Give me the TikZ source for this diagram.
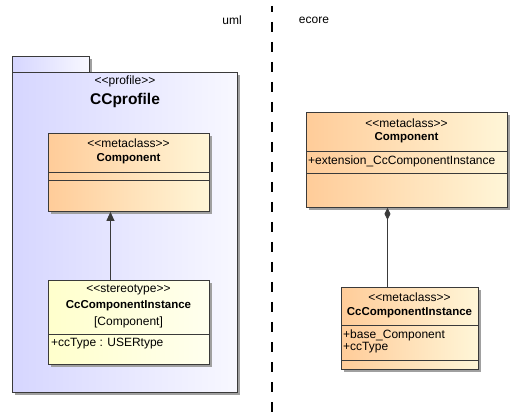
\documentclass[tikz,border=0pt]{standalone}
\usepackage{fontspec}
\setmainfont{Liberation Sans}
\usetikzlibrary{arrows.meta,shadows}
\definecolor{pkgL}{HTML}{D6D6FF}
\definecolor{pkgR}{HTML}{F8F8FF}
\definecolor{mcL}{HTML}{FFCC99}
\definecolor{mcR}{HTML}{FFF6D8}
\definecolor{stL}{HTML}{FFFFCC}
\definecolor{stR}{HTML}{FFFFEE}
\definecolor{edge}{HTML}{3A3A3A}
\definecolor{shadowgray}{HTML}{A0A0A0}
\tikzset{
  shade/.style={drop shadow={shadow xshift=3pt,shadow yshift=-3pt,fill=shadowgray,opacity=1}},
  umlbox/.style={draw=edge,line width=0.9pt,anchor=north west,inner sep=0pt,shade},
  metabox/.style={umlbox,left color=mcL,right color=mcR},
  stereobox/.style={umlbox,left color=stL,right color=stR},
  pkgbox/.style={umlbox,left color=pkgL,right color=pkgR},
  txt/.style={font=\fontsize{12}{14}\selectfont,inner sep=0pt},
  bold/.style={txt,font=\fontsize{11.5}{13}\selectfont\bfseries},
  sep/.style={draw=edge,line width=0.9pt}
}
\begin{document}
\begin{tikzpicture}[x=1pt,y=-1pt]
  \useasboundingbox (0,0) rectangle (527,419);
  %% sides
  \draw[line width=1.3pt,dash pattern=on 10pt off 10pt,dash phase=4pt] (272,6) -- (272,419);
  \node[txt] (uml) at (232,20) {uml};
  \node[txt] (ecore) at (314,20) {ecore};
  %% profile package
  \node[pkgbox,minimum width=77pt,minimum height=16pt] (tab) at (12,56) {};
  \node[pkgbox,minimum width=225pt,minimum height=320pt] (pkg) at (12,72) {};
  \node[txt] (pkgst) at (125,81) {<{}<profile>{}>};
  \node[txt,font=\fontsize{15.5}{17}\selectfont\bfseries] (pkgname) at (125,100) {CCprofile};
  %% uml metaclass
  \node[metabox,minimum width=161pt,minimum height=78pt] (compL) at (48,133) {};
  \node[txt] at (128.5,143) {<{}<metaclass>{}>};
  \node[bold] at (128.5,159) {Component};
  \draw[sep] (48,172) -- (209,172);
  \draw[sep] (48,180) -- (209,180);
  %% stereotype
  \node[stereobox,minimum width=161pt,minimum height=84pt] (inst) at (48,280) {};
  \node[txt] at (128.5,290) {<{}<stereotype>{}>};
  \node[bold] at (128.5,306) {CcComponentInstance};
  \node[txt] at (128.5,322) {[Component]};
  \draw[sep] (48,334) -- (209,334);
  \node[txt,anchor=west] at (51,344) {+ccType : USERtype};
  \draw[edge,line width=0.9pt,-{Triangle[length=9pt,width=8pt]}] ([xshift=-18.5pt]inst.north) -- ([xshift=-18.5pt]compL.south);
  %% ecore metaclasses
  \node[metabox,minimum width=201pt,minimum height=95pt] (compR) at (306,112) {};
  \node[txt] at (406.5,123) {<{}<metaclass>{}>};
  \node[bold] at (406.5,138) {Component};
  \draw[sep] (306,151) -- (507,151);
  \node[txt,anchor=west] at (308,161) {+extension\_CcComponentInstance};
  \draw[sep] (306,173) -- (507,173);
  \node[metabox,minimum width=137pt,minimum height=82pt] (instR) at (341,287) {};
  \node[txt] at (409.5,297) {<{}<metaclass>{}>};
  \node[bold] at (409.5,313) {CcComponentInstance};
  \draw[sep] (341,325) -- (478,325);
  \node[txt,anchor=west] at (343,335) {+base\_Component};
  \node[txt,anchor=west] at (343,348) {+ccType};
  \draw[sep] (341,360) -- (478,360);
  \draw[edge,line width=0.9pt,{Diamond[length=12pt,width=6pt]}-] ([xshift=-19.5pt]compR.south) -- ([xshift=-22.5pt]instR.north);
\end{tikzpicture}
\end{document}
